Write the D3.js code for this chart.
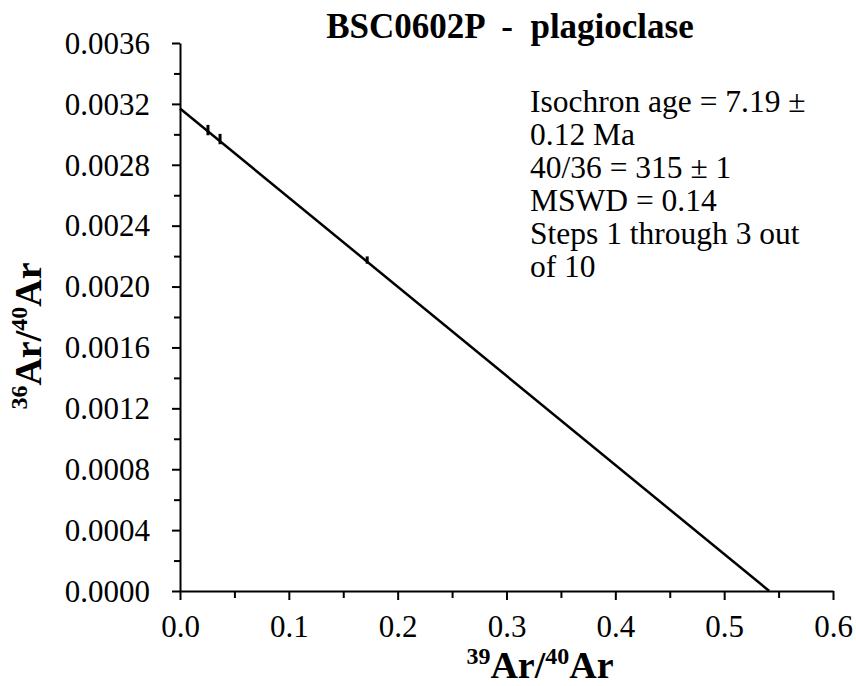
<!DOCTYPE html>
<html><head><meta charset="utf-8">
<script src="https://cdn.jsdelivr.net/npm/d3@7"></script>
<style>
html,body{margin:0;padding:0;background:#fff;}
</style></head>
<body><svg id="c" width="856" height="686"></svg>
<script>
// Data
const stepX = [0.0257, 0.0368, 0.1720];
const stepY = [0.003028, 0.002969, 0.002174];
const stepYErr = [0.000034, 0.000034, 0.000024];
const lineX = [0, 0.5414];
const lineY = [0.00317, 0];
const xTicks = [0, 0.1, 0.2, 0.3, 0.4, 0.5, 0.6];
const xMinor = [0.05, 0.15, 0.25, 0.35, 0.45, 0.55];
const yTicks = [0, 0.0004, 0.0008, 0.0012, 0.0016, 0.0020, 0.0024, 0.0028, 0.0032, 0.0036];
const yMinor = [0.0002, 0.0006, 0.0010, 0.0014, 0.0018, 0.0022, 0.0026, 0.0030, 0.0034];
const titleText = "BSC0602P  -  plagioclase";
const noteLines = ["Isochron age = 7.19 \u00b1", "0.12 Ma", "40/36 = 315 \u00b1 1", "MSWD = 0.14", "Steps 1 through 3 out", "of 10"];

const FONT = '"Liberation Serif", "Times New Roman", Tinos, Times';
const svg = d3.select("#c");
const x = d3.scaleLinear().domain([0, 0.6]).range([180, 833]);
const y = d3.scaleLinear().domain([0, 0.0036]).range([591, 43]);

// minor ticks
svg.append("g").attr("transform", `translate(0,${y(0)})`)
  .call(d3.axisBottom(x).tickValues(xMinor).tickSize(7).tickFormat("").tickSizeOuter(0))
  .call(g => g.select(".domain").remove());
svg.append("g").attr("transform", `translate(${x(0)},0)`)
  .call(d3.axisLeft(y).tickValues(yMinor).tickSize(6).tickFormat("").tickSizeOuter(0))
  .call(g => g.select(".domain").remove());

const xa = svg.append("g").attr("transform", `translate(0,${y(0)})`)
  .call(d3.axisBottom(x).tickValues(xTicks).tickSize(9).tickSizeOuter(0).tickFormat(d3.format(".1f")));
const ya = svg.append("g").attr("transform", `translate(${x(0)},0)`)
  .call(d3.axisLeft(y).tickValues(yTicks).tickSize(8).tickSizeOuter(0).tickFormat(d3.format(".4f")));

svg.selectAll(".tick line").attr("stroke", "#000").attr("stroke-width", 2);
svg.selectAll(".domain").attr("stroke", "#000").attr("stroke-width", 2);
xa.selectAll("text").attr("y", 46).attr("dy", 0).attr("font-size", 31).style("font-family", FONT).attr("fill", "#000");
ya.selectAll("text").attr("x", -30).attr("dy", "0.33em").attr("font-size", 31).style("font-family", FONT).attr("fill", "#000");

// isochron line
svg.append("path")
  .datum(lineX.map((d, i) => [d, lineY[i]]))
  .attr("d", d3.line().x(d => x(d[0])).y(d => y(d[1])))
  .attr("stroke", "#000").attr("stroke-width", 2.5).attr("fill", "none");

// error bars
svg.selectAll(".eb").data(stepX).join("line")
  .attr("x1", (d) => x(d)).attr("x2", (d) => x(d))
  .attr("y1", (d, i) => y(stepY[i] + stepYErr[i]))
  .attr("y2", (d, i) => y(stepY[i] - stepYErr[i]))
  .attr("stroke", "#000").attr("stroke-width", 3);

// title
svg.append("text").attr("x", 510).attr("y", 38).attr("text-anchor", "middle")
  .attr("font-size", 35).attr("font-weight", "bold").style("font-family", FONT)
  .style("white-space", "pre").text(titleText);

// annotation
const note = svg.append("text").attr("x", 530).attr("y", 112).attr("font-size", 31.5).style("font-family", FONT);
noteLines.forEach((t, i) => note.append("tspan").attr("x", 530).attr("y", 112 + i * 33).text(t));

// axis labels
function arLabel(g, a, b) {
  const t = g.append("text").attr("font-weight", "bold").attr("font-size", 38).style("font-family", FONT);
  t.append("tspan").attr("font-size", 24).attr("dy", -14).text(a);
  t.append("tspan").attr("dy", 14).text("Ar/");
  t.append("tspan").attr("font-size", 24).attr("dy", -14).text(b);
  t.append("tspan").attr("dy", 14).text("Ar");
  return t;
}
const xl = arLabel(svg.append("g").attr("transform", "translate(540,678)"), "39", "40");
xl.attr("text-anchor", "middle");
const yl = arLabel(svg.append("g").attr("transform", "translate(41,336) rotate(-90)"), "36", "40");
yl.attr("text-anchor", "middle");
</script></body></html>
